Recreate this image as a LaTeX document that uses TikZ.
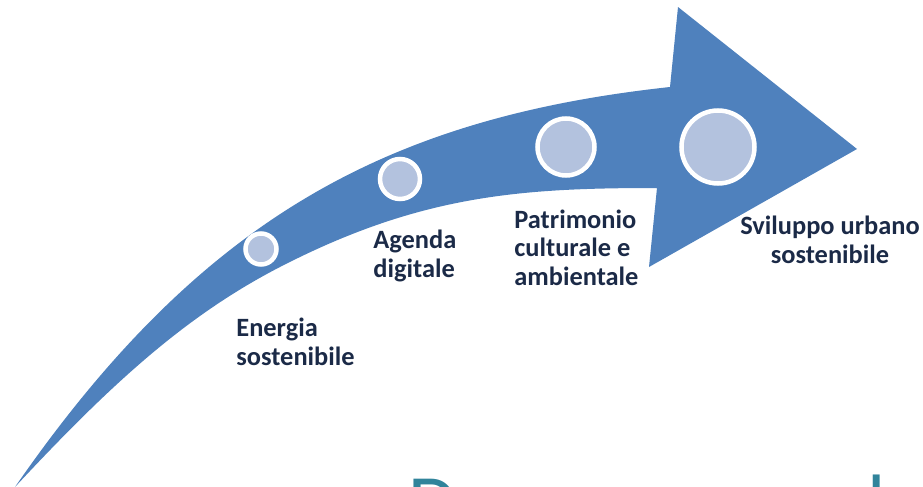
\documentclass[tikz,border=0pt]{standalone}
\usepackage{fontspec}
\setmainfont{Carlito}

\definecolor{arrowblue}{HTML}{4F81BD}
\definecolor{dotfill}{HTML}{B3C2DE}
\definecolor{labelnavy}{HTML}{1B2A47}
\definecolor{titleteal}{HTML}{31849B}

\tikzset{
  stagelabel/.style={font=\bfseries\fontsize{13.2}{14.2}\selectfont, text=labelnavy, inner sep=0pt},
  titlefrag/.style={font=\fontsize{40}{48}\selectfont, text=titleteal, inner sep=0pt, anchor=base west}
}

\begin{document}
\begin{tikzpicture}[x=0.5pt,y=-0.5pt]
\clip (0,0) rectangle (923,487);

% arrow
\fill[arrowblue] (15,487)
  .. controls (200,220) and (385,118) .. (670,87)
  -- (678,7) -- (857,149) -- (649,267) -- (657,188)
  .. controls (520,188) and (420,195) .. (280,267)
  .. controls (185,316) and (110,385) .. (15,487)
  -- cycle;

% dots on the arrow
\newcommand\stagedot[3]{ \node[circle, fill=dotfill, draw=white, line width=2.25pt, minimum size=#3, inner sep=0pt] (#1) at (#2) {}; }
\stagedot{dotA}{261,249}{15.5pt}
\stagedot{dotB}{400,179}{20pt}
\stagedot{dotC}{566,147}{28.5pt}
\stagedot{dotD}{718,147}{36.5pt}

% labels (placed by the baseline of their last line)
\node[stagelabel, anchor=base west, align=left] (energia) at (236,365) {Energia\\sostenibile};
\node[stagelabel, anchor=base west, align=left] (agenda) at (373,277) {Agenda\\digitale};
\node[stagelabel, anchor=base west, align=left] (patrimonio) at (514,285) {Patrimonio\\culturale e\\ambientale};
\node[stagelabel, anchor=base, align=center] (sviluppo) at (830,263) {Sviluppo urbano\\sostenibile};

% title, cut off at the bottom
\node[titlefrag] (titleD) at (408,530) {D};
\node[titlefrag] (titleL) at (867,530) {l};
\end{tikzpicture}
\end{document}
